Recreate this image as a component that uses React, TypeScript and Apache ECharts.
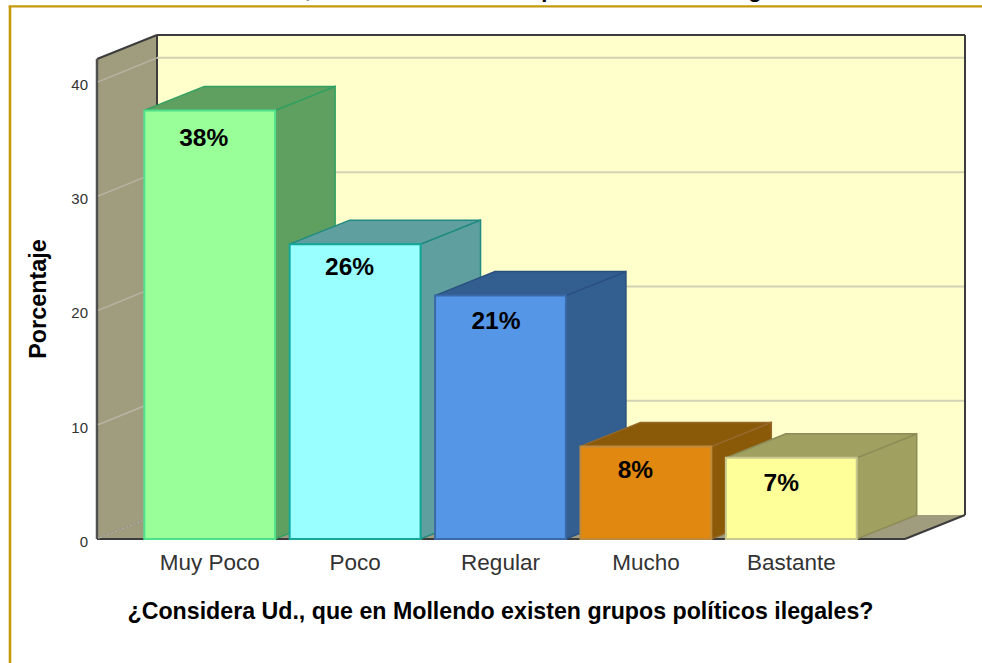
import React, { useEffect, useRef } from "react";
import * as echarts from "echarts";

const categories = ["Muy Poco", "Poco", "Regular", "Mucho", "Bastante"];
const values = [37.5, 25.8, 21.3, 8.1, 7.1];
const percentLabels = ["38%", "26%", "21%", "8%", "7%"];
const yTicks = [0, 10, 20, 30, 40];
const yTitle = "Porcentaje";
const xTitle = "¿Considera Ud., que en Mollendo existen grupos políticos ilegales?";
const clippedTitleGlyphs = [",", "p", "g"];

const frontColors = ["#99ff99", "#99ffff", "#5596e6", "#e0880f", "#ffff99"];
const shadeColors = ["#5fa060", "#5f9f9f", "#335f90", "#8b5a08", "#a0a060"];
const frontBorders = ["#4fe08c", "#14a898", "#3a6aa8", "#c08a3c", "#c8c890"];
const shadeBorders = ["#2fa060", "#1f8a80", "#2a5080", "#94682a", "#8c8c58"];
const labelNudgeX = [-6, -5.5, -4.5, -10.5, -10];
const labelNudgeY = [27, 22, 25, 23, 25];
const glyphX = [308, 548, 755];

const DX = 60;
const DY = -24;
const FONT = "'Liberation Sans', Arial, sans-serif";

function poly(points: number[][], fill: string, stroke?: string, lineWidth = 1.5) {
  return {
    type: "polygon",
    shape: { points },
    style: { fill, stroke: stroke || "none", lineWidth },
  };
}
function seg(a: number[], b: number[], stroke: string, lineWidth = 2, lineDash?: number[]) {
  return {
    type: "line",
    shape: { x1: a[0], y1: a[1], x2: b[0], y2: b[1] },
    style: { stroke, lineWidth, lineDash, fill: "none" },
  };
}

function renderWalls(params: any) {
  const cs = params.coordSys;
  const L = cs.x - 40;
  const R = cs.x + cs.width + 41;
  const T = cs.y;
  const B = cs.y + cs.height;
  const dark = "#3c3c3c";
  return {
    type: "group",
    children: [
      poly([[L + DX, T + DY], [R + DX, T + DY], [R + DX, B + DY], [L + DX, B + DY]], "#ffffcc"),
      poly([[L, T], [L + DX, T + DY], [L + DX, B + DY], [L, B]], "#a09c7e"),
      poly([[L, B], [L + DX, B + DY], [R + DX, B + DY], [R, B]], "#a09c7e"),
      seg([L, T], [L + DX, T + DY], dark),
      seg([L + DX, T + DY], [R + DX, T + DY], dark),
      seg([R + DX, T + DY], [R + DX, B + DY], dark),
      seg([L + DX, T + DY], [L + DX, B + DY], dark),
      seg([L, T], [L, B], "#505050", 2.5),
      seg([L, B], [R, B], dark),
      seg([R, B], [R + DX, B + DY], dark),
    ],
  };
}

function renderTick(params: any, api: any) {
  const cs = params.coordSys;
  const L = cs.x - 40;
  const R = cs.x + cs.width + 41;
  const y = api.coord([0, api.value(1)])[1];
  if (api.value(1) === 0) {
    return seg([L + 1, y - 1], [L + DX, y + DY], "#96968f", 2, [2, 2]);
  }
  return {
    type: "group",
    children: [
      seg([L + 1, y], [L + DX, y + DY], "#b7b5a5", 1.5),
      seg([L + DX, y + DY], [R + DX - 1, y + DY], "#d2d2b4", 2),
    ],
  };
}

function renderBar(params: any, api: any) {
  const i = api.value(0);
  const v = api.value(1);
  const top = api.coord([i, v]);
  const base = api.coord([i, 0]);
  const w = api.size([1, 0])[0] * 0.9;
  const x0 = top[0] - w / 2;
  const x1 = top[0] + w / 2;
  const yT = top[1];
  const yB = base[1];
  return {
    type: "group",
    children: [
      poly([[x1, yT], [x1 + DX, yT + DY], [x1 + DX, yB + DY], [x1, yB]], shadeColors[i], shadeBorders[i]),
      poly([[x0, yT], [x0 + DX, yT + DY], [x1 + DX, yT + DY], [x1, yT]], shadeColors[i], shadeBorders[i]),
      poly([[x0, yT], [x1, yT], [x1, yB], [x0, yB]], frontColors[i], frontBorders[i], 2),
      {
        type: "text",
        x: top[0] + labelNudgeX[i],
        y: yT + labelNudgeY[i],
        style: {
          text: percentLabels[i],
          fill: "#000000",
          font: `bold 24.5px ${FONT}`,
          textAlign: "center",
          textVerticalAlign: "middle",
        },
      },
    ],
  };
}

export default function App() {
  const ref = useRef<HTMLDivElement>(null);
  useEffect(() => {
    document.body.style.margin = "0";
    const chart = echarts.init(ref.current!, null, { renderer: "svg" });
    chart.setOption({
      animation: false,
      backgroundColor: "#ffffff",
      grid: { left: 137, width: 727, top: 59, height: 480, containLabel: false },
      xAxis: {
        type: "category",
        data: categories,
        axisLine: { show: false },
        axisTick: { show: false },
        axisLabel: {
          color: "#333333",
          fontFamily: FONT,
          fontSize: 22.5,
          margin: 12,
        },
        name: xTitle,
        nameLocation: "middle",
        nameGap: 60,
        nameTextStyle: { color: "#000000", fontFamily: FONT, fontSize: 23.2, fontWeight: "bold" },
      },
      yAxis: {
        type: "value",
        min: 0,
        max: 42,
        interval: 10,
        offset: 40,
        axisLine: { show: false },
        axisTick: { show: false },
        splitLine: { show: false },
        axisLabel: {
          showMaxLabel: false,
          margin: 9,
          formatter: "{t|{value}}",
          rich: {
            t: { color: "#333333", fontFamily: FONT, fontSize: 15, padding: [5, 0, 0, 0] },
          },
        },
        name: yTitle,
        nameLocation: "middle",
        nameGap: 48,
        nameTextStyle: { color: "#000000", fontFamily: FONT, fontSize: 23.4, fontWeight: "bold" },
      },
      series: [
        { type: "custom", name: "walls", silent: true, z: 1, clip: false, renderItem: renderWalls, data: [[0, 0]], encode: { x: 0, y: 1 } },
        { type: "custom", name: "ticks", silent: true, z: 2, clip: false, renderItem: renderTick, data: yTicks.map((t) => [0, t]), encode: { x: 0, y: 1 } },
        { type: "custom", name: "Porcentaje", z: 3, clip: false, renderItem: renderBar, data: values.map((v, i) => [i, v]), encode: { x: 0, y: 1 } },
      ],
      graphic: [
        ...clippedTitleGlyphs.map((g, i) => ({
          type: "text",
          x: glyphX[i],
          y: 0,
          z: 9,
          style: { text: g, fill: "#000000", font: `bold 22px ${FONT}`, textAlign: "center", textVerticalAlign: "bottom" },
        })),
        { type: "rect", z: 10, shape: { x: 8.7, y: 6, width: 2.6, height: 657 }, style: { fill: "#c49a0c" } },
        { type: "rect", z: 10, shape: { x: 8.7, y: 5.2, width: 974, height: 2.2 }, style: { fill: "#c49a0c" } },
      ],
    });
    return () => chart.dispose();
  }, []);
  return <div ref={ref} style={{ width: 982, height: 663 }} />;
}
